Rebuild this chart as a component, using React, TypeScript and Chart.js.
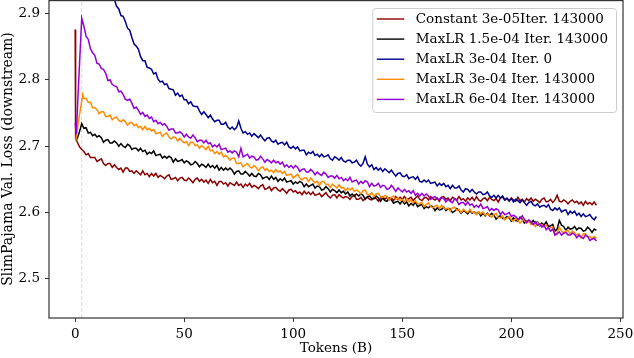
import React, { useEffect, useRef } from "react";
import { Chart, registerables } from "chart.js";

Chart.register(...registerables);

const FONT_FAMILY = "'DejaVu Serif', 'Liberation Serif', serif";
const FONT_SIZE = 13.5;

const xTicks = [0, 50, 100, 150, 200, 250];
const yTicks = [2.5, 2.6, 2.7, 2.8, 2.9];
const xMin = -12;
const xMax = 251.2;
const yMin = 2.441;
const yMax = 2.9205;
const warmupMarker = 3;

const seriesLabels = [
  "Constant 3e-05Iter. 143000",
  "MaxLR 1.5e-04 Iter. 143000",
  "MaxLR 3e-04 Iter. 0",
  "MaxLR 3e-04 Iter. 143000",
  "MaxLR 6e-04 Iter. 143000",
];
const seriesColors = ["#8b0000", "#000000", "#00008b", "#ff8c00", "#9400d3"];

// Tokens (B), one evaluation per billion tokens from 4B on
const tokens = [
  4, 5, 6, 7, 8, 9, 10, 11, 12, 13, 14, 15, 16, 17, 18, 19, 20, 21, 22, 23,
  24, 25, 26, 27, 28, 29, 30, 31, 32, 33, 34, 35, 36, 37, 38, 39, 40, 41, 42, 43,
  44, 45, 46, 47, 48, 49, 50, 51, 52, 53, 54, 55, 56, 57, 58, 59, 60, 61, 62, 63,
  64, 65, 66, 67, 68, 69, 70, 71, 72, 73, 74, 75, 76, 77, 78, 79, 80, 81, 82, 83,
  84, 85, 86, 87, 88, 89, 90, 91, 92, 93, 94, 95, 96, 97, 98, 99, 100, 101, 102, 103,
  104, 105, 106, 107, 108, 109, 110, 111, 112, 113, 114, 115, 116, 117, 118, 119, 120, 121, 122, 123,
  124, 125, 126, 127, 128, 129, 130, 131, 132, 133, 134, 135, 136, 137, 138, 139, 140, 141, 142, 143,
  144, 145, 146, 147, 148, 149, 150, 151, 152, 153, 154, 155, 156, 157, 158, 159, 160, 161, 162, 163,
  164, 165, 166, 167, 168, 169, 170, 171, 172, 173, 174, 175, 176, 177, 178, 179, 180, 181, 182, 183,
  184, 185, 186, 187, 188, 189, 190, 191, 192, 193, 194, 195, 196, 197, 198, 199, 200, 201, 202, 203,
  204, 205, 206, 207, 208, 209, 210, 211, 212, 213, 214, 215, 216, 217, 218, 219, 220, 221, 222, 223,
  224, 225, 226, 227, 228, 229, 230, 231, 232, 233, 234, 235, 236, 237, 238, 239,
];

// early points (before 4B): [tokens, loss]
const constantHead = [[0, 2.876], [0.2, 2.712], [1, 2.706], [2, 2.699], [3, 2.695]];
const lr15Head = [[0.3, 2.708], [1, 2.712], [2, 2.722], [3, 2.734]];
const lr3Head: number[][] = [];
const lr3ContHead = [[0.3, 2.708], [1.5, 2.738], [3.5, 2.778]];
const lr6Head = [[0, 2.735], [0.5, 2.718], [1.5, 2.79], [3, 2.893]];

const constantLoss = [
  2.692, 2.687, 2.689, 2.683, 2.683, 2.683, 2.677, 2.679, 2.681, 2.674,
  2.671, 2.674, 2.674, 2.668, 2.672, 2.668, 2.665, 2.667, 2.661, 2.667,
  2.667, 2.662, 2.663, 2.659, 2.663, 2.660, 2.657, 2.663, 2.657, 2.659,
  2.654, 2.659, 2.655, 2.659, 2.653, 2.656, 2.654, 2.651, 2.655, 2.657,
  2.650, 2.651, 2.653, 2.648, 2.652, 2.653, 2.649, 2.648, 2.652, 2.649,
  2.645, 2.650, 2.652, 2.647, 2.650, 2.646, 2.649, 2.644, 2.650, 2.645,
  2.647, 2.641, 2.647, 2.647, 2.643, 2.645, 2.640, 2.645, 2.643, 2.641,
  2.646, 2.641, 2.643, 2.638, 2.643, 2.640, 2.644, 2.638, 2.641, 2.639,
  2.636, 2.640, 2.642, 2.635, 2.636, 2.639, 2.633, 2.637, 2.638, 2.634,
  2.632, 2.636, 2.633, 2.629, 2.634, 2.635, 2.631, 2.633, 2.629, 2.631,
  2.627, 2.632, 2.628, 2.631, 2.627, 2.631, 2.626, 2.627, 2.629, 2.624,
  2.627, 2.630, 2.625, 2.622, 2.626, 2.627, 2.622, 2.627, 2.624, 2.622,
  2.624, 2.623, 2.620, 2.624, 2.626, 2.620, 2.620, 2.623, 2.618, 2.621,
  2.623, 2.620, 2.619, 2.623, 2.621, 2.617, 2.622, 2.624, 2.620, 2.623,
  2.619, 2.622, 2.618, 2.624, 2.620, 2.623, 2.620, 2.624, 2.619, 2.621,
  2.623, 2.618, 2.622, 2.625, 2.620, 2.618, 2.622, 2.623, 2.619, 2.624,
  2.621, 2.619, 2.622, 2.617, 2.623, 2.624, 2.620, 2.622, 2.618, 2.623,
  2.621, 2.619, 2.624, 2.619, 2.621, 2.617, 2.622, 2.619, 2.623, 2.618,
  2.624, 2.619, 2.617, 2.621, 2.622, 2.618, 2.623, 2.620, 2.618, 2.621,
  2.616, 2.622, 2.623, 2.619, 2.621, 2.617, 2.622, 2.619, 2.617, 2.623,
  2.618, 2.620, 2.616, 2.621, 2.618, 2.622, 2.617, 2.620, 2.618, 2.615,
  2.620, 2.622, 2.616, 2.617, 2.620, 2.615, 2.619, 2.626, 2.617, 2.616,
  2.619, 2.617, 2.613, 2.617, 2.619, 2.615, 2.617, 2.613, 2.616, 2.611,
  2.617, 2.613, 2.615, 2.612, 2.616, 2.611,
];

const lr15Loss = [
  2.727, 2.728, 2.720, 2.721, 2.716, 2.718, 2.714, 2.716, 2.713, 2.706,
  2.709, 2.710, 2.705, 2.705, 2.708, 2.705, 2.700, 2.704, 2.700, 2.698,
  2.703, 2.701, 2.695, 2.697, 2.697, 2.693, 2.697, 2.692, 2.694, 2.688,
  2.691, 2.689, 2.693, 2.686, 2.687, 2.688, 2.682, 2.685, 2.682, 2.685,
  2.683, 2.676, 2.681, 2.677, 2.678, 2.680, 2.675, 2.678, 2.676, 2.672,
  2.673, 2.677, 2.674, 2.669, 2.673, 2.671, 2.668, 2.673, 2.668, 2.671,
  2.667, 2.671, 2.664, 2.668, 2.664, 2.667, 2.664, 2.667, 2.664, 2.658,
  2.662, 2.663, 2.658, 2.658, 2.662, 2.659, 2.655, 2.659, 2.655, 2.654,
  2.659, 2.657, 2.651, 2.653, 2.654, 2.650, 2.655, 2.650, 2.653, 2.647,
  2.651, 2.648, 2.652, 2.646, 2.647, 2.648, 2.643, 2.646, 2.644, 2.647,
  2.645, 2.639, 2.643, 2.639, 2.641, 2.643, 2.637, 2.640, 2.639, 2.634,
  2.635, 2.639, 2.636, 2.631, 2.635, 2.633, 2.630, 2.634, 2.630, 2.632,
  2.628, 2.631, 2.625, 2.628, 2.625, 2.628, 2.625, 2.628, 2.626, 2.620,
  2.624, 2.625, 2.621, 2.621, 2.625, 2.622, 2.617, 2.622, 2.618, 2.617,
  2.622, 2.619, 2.614, 2.616, 2.617, 2.613, 2.618, 2.613, 2.616, 2.610,
  2.614, 2.611, 2.616, 2.609, 2.611, 2.612, 2.606, 2.609, 2.607, 2.610,
  2.609, 2.603, 2.607, 2.604, 2.605, 2.608, 2.603, 2.606, 2.605, 2.600,
  2.602, 2.606, 2.603, 2.599, 2.603, 2.601, 2.598, 2.603, 2.599, 2.601,
  2.598, 2.601, 2.595, 2.599, 2.595, 2.599, 2.595, 2.599, 2.596, 2.590,
  2.594, 2.595, 2.591, 2.591, 2.594, 2.592, 2.587, 2.592, 2.588, 2.587,
  2.593, 2.590, 2.584, 2.587, 2.587, 2.584, 2.588, 2.584, 2.586, 2.580,
  2.584, 2.581, 2.586, 2.579, 2.580, 2.582, 2.572, 2.575, 2.588, 2.581,
  2.579, 2.573, 2.578, 2.575, 2.576, 2.579, 2.574, 2.577, 2.576, 2.572,
  2.573, 2.578, 2.575, 2.570, 2.575, 2.573,
];

const lr3Loss = [
  null, null, null, null, null, null, null, null,
  3.011, 2.990, 2.977, 2.959, 2.948, 2.929, 2.921, 2.911, 2.907, 2.897,
  2.896, 2.888, 2.878, 2.875, 2.864, 2.854, 2.851, 2.846, 2.835, 2.829,
  2.829, 2.819, 2.818, 2.816, 2.809, 2.811, 2.801, 2.797, 2.798, 2.793,
  2.794, 2.787, 2.786, 2.785, 2.777, 2.780, 2.775, 2.777, 2.770, 2.770,
  2.764, 2.767, 2.761, 2.760, 2.760, 2.753, 2.748, 2.752, 2.748, 2.743,
  2.747, 2.741, 2.737, 2.739, 2.739, 2.733, 2.733, 2.736, 2.729, 2.726,
  2.729, 2.725, 2.728, 2.738, 2.727, 2.720, 2.722, 2.718, 2.720, 2.715,
  2.719, 2.716, 2.713, 2.717, 2.712, 2.708, 2.712, 2.713, 2.708, 2.706,
  2.709, 2.703, 2.705, 2.706, 2.702, 2.706, 2.699, 2.697, 2.700, 2.696,
  2.699, 2.693, 2.694, 2.694, 2.687, 2.691, 2.689, 2.692, 2.686, 2.688,
  2.684, 2.688, 2.684, 2.685, 2.687, 2.681, 2.679, 2.684, 2.682, 2.679,
  2.683, 2.678, 2.676, 2.679, 2.679, 2.675, 2.676, 2.679, 2.673, 2.670,
  2.674, 2.684, 2.673, 2.669, 2.672, 2.665, 2.668, 2.664, 2.667, 2.662,
  2.666, 2.663, 2.660, 2.664, 2.659, 2.655, 2.659, 2.660, 2.655, 2.654,
  2.657, 2.651, 2.653, 2.654, 2.650, 2.654, 2.647, 2.646, 2.649, 2.646,
  2.649, 2.644, 2.645, 2.646, 2.640, 2.644, 2.641, 2.644, 2.639, 2.641,
  2.636, 2.641, 2.637, 2.637, 2.640, 2.634, 2.631, 2.636, 2.635, 2.631,
  2.635, 2.631, 2.628, 2.631, 2.631, 2.627, 2.628, 2.631, 2.625, 2.623,
  2.626, 2.622, 2.626, 2.622, 2.625, 2.619, 2.622, 2.618, 2.621, 2.616,
  2.620, 2.618, 2.615, 2.619, 2.615, 2.611, 2.615, 2.617, 2.612, 2.610,
  2.613, 2.608, 2.610, 2.611, 2.608, 2.612, 2.605, 2.603, 2.607, 2.604,
  2.607, 2.601, 2.603, 2.604, 2.597, 2.602, 2.599, 2.602, 2.596, 2.599,
  2.594, 2.598, 2.594, 2.595, 2.597, 2.592, 2.589, 2.594,
];

const lr3ContLoss = [
  2.772, 2.772, 2.766, 2.766, 2.758, 2.758, 2.755, 2.749, 2.752, 2.752,
  2.745, 2.745, 2.747, 2.740, 2.743, 2.744, 2.739, 2.737, 2.740, 2.737,
  2.732, 2.735, 2.736, 2.731, 2.733, 2.728, 2.730, 2.725, 2.730, 2.725,
  2.727, 2.723, 2.725, 2.719, 2.720, 2.721, 2.715, 2.718, 2.720, 2.714,
  2.711, 2.714, 2.713, 2.708, 2.712, 2.708, 2.705, 2.707, 2.701, 2.706,
  2.706, 2.701, 2.702, 2.697, 2.701, 2.698, 2.695, 2.700, 2.693, 2.694,
  2.689, 2.692, 2.688, 2.691, 2.684, 2.686, 2.683, 2.679, 2.682, 2.682,
  2.674, 2.674, 2.675, 2.669, 2.672, 2.674, 2.669, 2.667, 2.671, 2.668,
  2.663, 2.667, 2.669, 2.664, 2.666, 2.662, 2.664, 2.660, 2.665, 2.661,
  2.663, 2.659, 2.662, 2.656, 2.657, 2.658, 2.652, 2.655, 2.658, 2.652,
  2.649, 2.652, 2.652, 2.647, 2.652, 2.648, 2.645, 2.647, 2.641, 2.647,
  2.647, 2.642, 2.643, 2.638, 2.643, 2.640, 2.637, 2.642, 2.637, 2.638,
  2.633, 2.637, 2.634, 2.637, 2.632, 2.634, 2.632, 2.628, 2.633, 2.634,
  2.627, 2.627, 2.630, 2.624, 2.628, 2.629, 2.624, 2.623, 2.626, 2.624,
  2.619, 2.623, 2.625, 2.620, 2.622, 2.618, 2.620, 2.616, 2.621, 2.616,
  2.619, 2.615, 2.618, 2.613, 2.614, 2.615, 2.609, 2.612, 2.615, 2.609,
  2.607, 2.610, 2.611, 2.606, 2.611, 2.607, 2.605, 2.607, 2.602, 2.607,
  2.608, 2.603, 2.605, 2.600, 2.605, 2.602, 2.600, 2.605, 2.600, 2.601,
  2.597, 2.601, 2.598, 2.601, 2.596, 2.598, 2.596, 2.593, 2.597, 2.599,
  2.592, 2.592, 2.595, 2.589, 2.592, 2.594, 2.589, 2.587, 2.591, 2.588,
  2.584, 2.588, 2.589, 2.584, 2.587, 2.582, 2.584, 2.579, 2.585, 2.580,
  2.582, 2.578, 2.581, 2.576, 2.577, 2.578, 2.567, 2.569, 2.578, 2.572,
  2.569, 2.573, 2.573, 2.568, 2.572, 2.569, 2.566, 2.568, 2.562, 2.568,
  2.568, 2.563, 2.564, 2.560, 2.564, 2.561,
];

const lr6Loss = [
  2.881, 2.866, 2.861, 2.847, 2.841, 2.837, 2.825, 2.824, 2.817, 2.816,
  2.810, 2.799, 2.800, 2.793, 2.791, 2.790, 2.782, 2.783, 2.778, 2.771,
  2.769, 2.771, 2.765, 2.757, 2.759, 2.754, 2.748, 2.751, 2.745, 2.747,
  2.742, 2.744, 2.737, 2.739, 2.734, 2.736, 2.732, 2.734, 2.730, 2.724,
  2.726, 2.726, 2.720, 2.720, 2.722, 2.719, 2.714, 2.718, 2.714, 2.712,
  2.717, 2.713, 2.707, 2.709, 2.709, 2.705, 2.709, 2.704, 2.705, 2.699,
  2.702, 2.699, 2.703, 2.695, 2.696, 2.697, 2.691, 2.693, 2.690, 2.693,
  2.691, 2.684, 2.697, 2.684, 2.686, 2.688, 2.682, 2.685, 2.684, 2.679,
  2.680, 2.685, 2.681, 2.676, 2.680, 2.678, 2.675, 2.679, 2.675, 2.677,
  2.673, 2.676, 2.669, 2.672, 2.668, 2.671, 2.667, 2.671, 2.668, 2.662,
  2.665, 2.666, 2.661, 2.661, 2.665, 2.662, 2.657, 2.661, 2.658, 2.656,
  2.661, 2.658, 2.653, 2.655, 2.655, 2.652, 2.656, 2.651, 2.653, 2.648,
  2.651, 2.648, 2.653, 2.646, 2.648, 2.649, 2.643, 2.647, 2.644, 2.648,
  2.646, 2.639, 2.644, 2.640, 2.641, 2.644, 2.638, 2.641, 2.640, 2.635,
  2.636, 2.641, 2.637, 2.632, 2.637, 2.634, 2.631, 2.635, 2.631, 2.633,
  2.629, 2.633, 2.626, 2.629, 2.625, 2.629, 2.625, 2.628, 2.625, 2.620,
  2.623, 2.624, 2.620, 2.620, 2.623, 2.621, 2.616, 2.620, 2.617, 2.615,
  2.621, 2.618, 2.612, 2.615, 2.615, 2.611, 2.616, 2.611, 2.613, 2.608,
  2.611, 2.608, 2.613, 2.606, 2.607, 2.609, 2.603, 2.606, 2.603, 2.606,
  2.604, 2.597, 2.601, 2.597, 2.598, 2.600, 2.594, 2.596, 2.594, 2.590,
  2.591, 2.595, 2.590, 2.585, 2.589, 2.586, 2.582, 2.586, 2.581, 2.583,
  2.578, 2.581, 2.574, 2.577, 2.572, 2.575, 2.566, 2.568, 2.571, 2.566,
  2.569, 2.570, 2.566, 2.566, 2.569, 2.567, 2.562, 2.566, 2.563, 2.561,
  2.566, 2.564, 2.558, 2.560, 2.561, 2.557,
];

const heads = [constantHead, lr15Head, lr3Head, lr3ContHead, lr6Head];
const losses: (number | null)[][] = [constantLoss, lr15Loss, lr3Loss, lr3ContLoss, lr6Loss];

const framePlugin = {
  id: "frame",
  afterDatasetsDraw(chart: any) {
    const { ctx, chartArea } = chart;
    ctx.save();
    ctx.strokeStyle = "#333333";
    ctx.lineWidth = 1.2;
    ctx.strokeRect(
      chartArea.left,
      chartArea.top + 0.6,
      chartArea.right - chartArea.left,
      chartArea.bottom - chartArea.top - 0.6
    );
    ctx.restore();
  },
};

const legendPlugin = {
  id: "mplLegend",
  afterDraw(chart: any) {
    const { ctx, chartArea } = chart;
    const items = chart.data.datasets.filter((d: any) => !d.hideInLegend);
    ctx.save();
    ctx.font = `${FONT_SIZE}px ${FONT_FAMILY}`;
    let maxW = 0;
    items.forEach((d: any) => {
      maxW = Math.max(maxW, ctx.measureText(d.label).width);
    });
    const padL = 4.5;
    const handle = 27.5;
    const gap = 11.5;
    const padR = 8;
    const w = padL + handle + gap + maxW + padR;
    const right = chartArea.right - 7;
    const left = right - w;
    const top = chartArea.top + 8;
    const rowH = 20.1;
    const h = 104;
    ctx.beginPath();
    if ((ctx as any).roundRect) (ctx as any).roundRect(left + 0.5, top + 0.5, w, h, 3);
    else ctx.rect(left + 0.5, top + 0.5, w, h);
    ctx.fillStyle = "rgba(255,255,255,0.85)";
    ctx.fill();
    ctx.strokeStyle = "#cccccc";
    ctx.lineWidth = 1;
    ctx.stroke();
    items.forEach((d: any, i: number) => {
      const y = top + 11 + i * rowH;
      ctx.beginPath();
      ctx.strokeStyle = d.borderColor;
      ctx.lineWidth = 1.4;
      ctx.moveTo(left + padL, y);
      ctx.lineTo(left + padL + handle, y);
      ctx.stroke();
      ctx.fillStyle = "#000";
      ctx.textAlign = "left";
      ctx.textBaseline = "middle";
      ctx.fillText(d.label, left + padL + handle + gap, y);
    });
    ctx.restore();
  },
};

export default function App() {
  const ref = useRef<HTMLCanvasElement>(null);
  useEffect(() => {
    if (!ref.current) return;
    const font = { family: FONT_FAMILY, size: FONT_SIZE };
    const datasets: any[] = seriesLabels.map((label, s) => ({
      label,
      data: [
        ...heads[s].map(([x, y]) => ({ x, y })),
        ...tokens.map((x, i) => ({ x, y: losses[s][i] ?? null })),
      ],
      borderColor: seriesColors[s],
      backgroundColor: seriesColors[s],
      borderWidth: 1.5,
      pointRadius: 0,
      tension: 0,
      fill: false,
      clip: 0,
      spanGaps: false,
      order: seriesLabels.length - s,
    }));
    datasets.push({
      label: "warmup",
      hideInLegend: true,
      data: [
        { x: warmupMarker, y: yMin },
        { x: warmupMarker, y: yMax },
      ],
      borderColor: "#d8d8d8",
      borderWidth: 1,
      borderDash: [4, 2],
      pointRadius: 0,
      fill: false,
      clip: 0,
      order: 10,
    });
    const chart = new Chart(ref.current, {
      type: "line",
      data: { datasets },
      plugins: [framePlugin, legendPlugin],
      options: {
        responsive: false,
        animation: false,
        devicePixelRatio: 1,
        layout: { padding: { left: 0, right: 11, top: 0, bottom: 0 } },
        plugins: { legend: { display: false }, tooltip: { enabled: false } },
        scales: {
          x: {
            type: "linear",
            min: xMin,
            max: xMax,
            afterBuildTicks: (s: any) => {
              s.ticks = xTicks.map((v) => ({ value: v }));
            },
            afterFit: (s: any) => {
              s.height = 40;
              s.paddingLeft = 0;
              s.paddingRight = 0;
            },
            grid: { drawOnChartArea: false, drawTicks: true, tickLength: 4, color: "#333333", lineWidth: 1 },
            border: { display: false },
            ticks: {
              font,
              color: "#000",
              padding: 4,
              maxRotation: 0,
              autoSkip: false,
              callback: (v: any) => String(v),
            },
            title: { display: true, text: "Tokens (B)", font, color: "#000", padding: { top: 0, bottom: 1 } },
          },
          y: {
            type: "linear",
            min: yMin,
            max: yMax,
            afterBuildTicks: (s: any) => {
              s.ticks = yTicks.map((v) => ({ value: v }));
            },
            afterFit: (s: any) => {
              s.width = 49;
              s.paddingTop = 0;
              s.paddingBottom = 0;
            },
            grid: { drawOnChartArea: false, drawTicks: true, tickLength: 4, color: "#333333", lineWidth: 1 },
            border: { display: false },
            ticks: {
              font,
              color: "#000",
              padding: 5,
              autoSkip: false,
              callback: (v: any) => Number(v).toFixed(1),
            },
            title: {
              display: true,
              text: "SlimPajama Val. Loss (downstream)",
              font: { family: FONT_FAMILY, size: 14 },
              color: "#000",
              padding: { top: 0, bottom: 0 },
            },
          },
        },
      } as any,
    });
    return () => chart.destroy();
  }, []);
  return (
    <div style={{ position: "fixed", left: 0, top: 0, width: 634, height: 358, background: "#fff" }}>
      <canvas ref={ref} width={634} height={358} style={{ display: "block" }} />
    </div>
  );
}
